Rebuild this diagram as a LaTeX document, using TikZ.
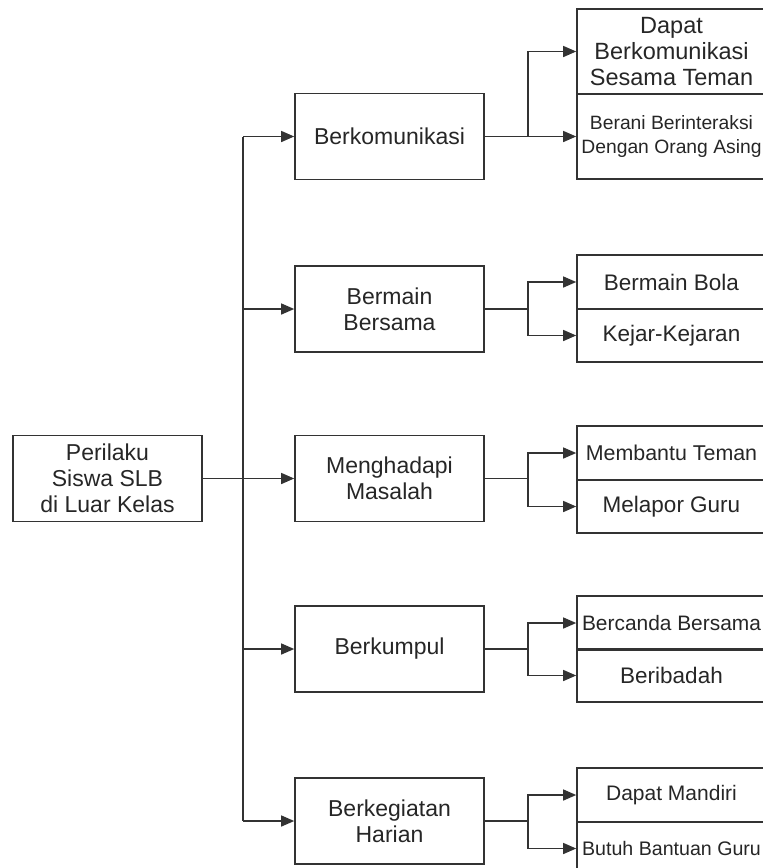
\documentclass[tikz,border=0pt]{standalone}
\usepackage{fontspec}
\setmainfont{Liberation Sans}
\usetikzlibrary{arrows.meta}

\begin{document}
\begin{tikzpicture}[x=1pt, y=-1pt, >={Triangle[length=13pt,width=11pt]},
  box/.style={draw=black!80, line width=1.6pt, minimum width=189pt, minimum height=86pt,
    inner sep=0pt, align=center, text=black!85, font=\fontsize{23}{26}\selectfont},
  subbox/.style={box, minimum height=53.5pt, font=\fontsize{22.5}{26}\selectfont},
  link/.style={draw=black!80, line width=1.3pt}]
  \useasboundingbox (0,0) rectangle (763,868);
  \clip (0,0) rectangle (763,868);
  % root and first level
  \node[box] (perilaku) at (107.5,478.5) {Perilaku\\Siswa SLB\\di Luar Kelas};
  \node[box] (komunikasi) at (389.5,136.5) {Berkomunikasi};
  \node[box] (bermain) at (389.5,309) {Bermain\\Bersama};
  \node[box] (masalah) at (389.5,478.5) {Menghadapi\\Masalah};
  \node[box] (kumpul) at (389.5,649) {Berkumpul};
  \node[box] (harian) at (389.5,821) {Berkegiatan\\Harian};
  % second level
  \node[box, minimum height=85pt, font=\fontsize{23.5}{26}\selectfont] (teman) at (671.5,51.5) {Dapat\\Berkomunikasi\\Sesama Teman};
  \node[box, minimum height=85pt, font=\fontsize{19.3}{24}\selectfont] (asing) at (671.5,136.5) {Berani Berinteraksi\\Dengan Orang Asing};
  \node[subbox] (bola) at (671.5,282) {Bermain Bola};
  \node[subbox] (kejar) at (671.5,335.5) {Kejar-Kejaran};
  \node[subbox, font=\fontsize{21.4}{26}\selectfont] (bantu) at (671.5,453) {Membantu Teman};
  \node[subbox] (lapor) at (671.5,506.5) {Melapor Guru};
  \node[subbox, font=\fontsize{20.9}{26}\selectfont] (canda) at (671.5,623) {Bercanda Bersama};
  \node[subbox] (ibadah) at (671.5,675.5) {Beribadah};
  \node[subbox, font=\fontsize{21}{26}\selectfont] (mandiri) at (671.5,795) {Dapat Mandiri};
  \node[subbox, font=\fontsize{19.6}{26}\selectfont] (bantuan) at (671.5,848.5) {Butuh Bantuan Guru};
  % connectors
  \coordinate (trunk) at (243,0);
  \coordinate (split) at (528,0);
  \draw[link] (perilaku.east) -- (trunk |- perilaku.east);
  \draw[link] (trunk |- komunikasi.west) -- (trunk |- harian.west);
  \foreach \m in {komunikasi, bermain, masalah, kumpul, harian}
    \draw[link,->] (trunk |- \m.west) -- (\m.west);
  \foreach \m/\a/\b in {komunikasi/teman/asing, bermain/bola/kejar, masalah/bantu/lapor,
                        kumpul/canda/ibadah, harian/mandiri/bantuan} {
    \draw[link] (\m.east) -- (split |- \m.east);
    \draw[link,->] (split |- \m.east) |- (\a.west);
    \draw[link,->] (split |- \m.east) |- (\b.west);
  }
\end{tikzpicture}
\end{document}
